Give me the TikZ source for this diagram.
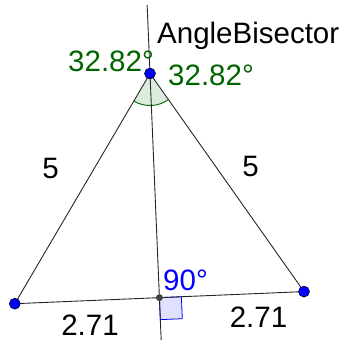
\documentclass[tikz,border=0pt]{standalone}
\usepackage{fontspec}
\setmainfont{Liberation Sans}
\usetikzlibrary{calc}
\begin{document}
\begin{tikzpicture}[x=1pt,y=1pt,
  seg/.style={draw=black!85,line width=0.9pt},
  pt/.style={circle,fill=blue,draw=black,line width=0.5pt,inner sep=0pt,minimum size=11pt},
  midpt/.style={circle,fill=black!75,inner sep=0pt,minimum size=7pt},
  lbl/.style={inner sep=0pt,font=\fontsize{29.5}{31}\selectfont},
]
\definecolor{ggreen}{RGB}{0,100,0}
\definecolor{sectorfill}{RGB}{220,236,220}
\definecolor{rafill}{RGB}{225,225,255}
\useasboundingbox (0,0) rectangle (348,343);
\coordinate (A) at (150,269.5);
\coordinate (B) at (14.8,39.3);
\coordinate (C) at (304,51.4);
\coordinate (D) at (159.4,45.35);
\coordinate (Ltop) at ($(D)+(92.4:292.9)$);
\coordinate (Lbot) at ($(D)+(92.4:-42.4)$);
% angle sector
\fill[sectorfill] (A) -- ++(239.57:32) arc[start angle=239.57,end angle=305.22,radius=32] -- cycle;
\draw[ggreen,line width=0.9pt] (A) ++(239.57:32) arc[start angle=239.57,end angle=305.22,radius=32];
% right angle mark
\filldraw[fill=rafill,draw=blue,line width=0.8pt] (D) -- ++(2.4:22) -- ++(-87.6:22) -- ++(182.4:22) -- cycle;
% lines
\draw[seg] (Ltop) -- (Lbot);
\draw[seg] (A) -- (B) -- (C) -- cycle;
% points
\node[midpt] (Dn) at (D) {};
\node[pt] (An) at (A) {};
\node[pt] (Bn) at (B) {};
\node[pt] (Cn) at (C) {};
% labels
\node[lbl,anchor=base west] (lab) at (157,299.5) {AngleBisector};
\node[lbl,anchor=base west,text=ggreen] (a1) at (68,271) {32.82°};
\node[lbl,anchor=base west,text=ggreen] (a2) at (168,257) {32.82°};
\node[lbl,anchor=base] (s1) at (50.5,164) {5};
\node[lbl,anchor=base] (s2) at (250.5,166) {5};
\node[lbl,anchor=base west,text=blue] (r) at (163,53) {90°};
\node[lbl,anchor=base] (h1) at (90,8) {2.71};
\node[lbl,anchor=base] (h2) at (258.5,16) {2.71};
\end{tikzpicture}
\end{document}
